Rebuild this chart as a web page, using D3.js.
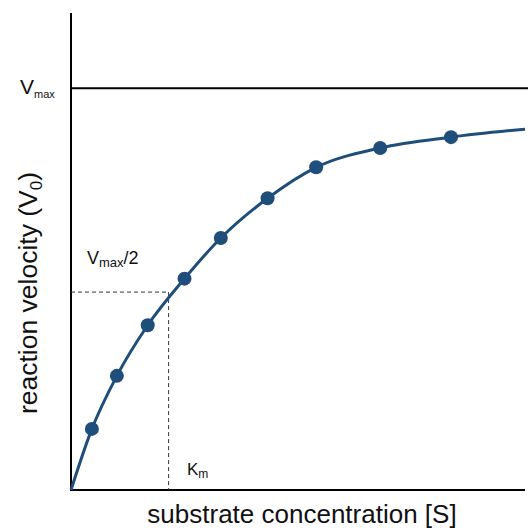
<!DOCTYPE html>
<html>
<head>
<meta charset="utf-8">
<script src="https://cdn.jsdelivr.net/npm/d3@7/dist/d3.min.js"></script>
<style>
  html, body { margin: 0; padding: 0; background: #fff; }
  text { font-family: "Liberation Sans", Arial, sans-serif; fill: #111; }
</style>
</head>
<body>
<svg id="chart" width="528" height="529"></svg>
<script>
// Data (substrate concentration, reaction velocity as fraction of Vmax)
const substrate = [0.46, 1.01, 1.69, 2.50, 3.30, 4.33, 5.40, 6.81, 8.37];
const velocity  = [0.152, 0.284, 0.410, 0.526, 0.627, 0.726, 0.803, 0.851, 0.878];
const curveS = [0, 0.46, 1.01, 1.69, 2.50, 3.30, 4.33, 5.40, 6.81, 8.37, 10];
const curveV = [0, 0.152, 0.284, 0.410, 0.526, 0.627, 0.726, 0.803, 0.851, 0.878, 0.898];
const vmax = 1.0;
const halfVmax = 0.4925;
const km = 2.15;

const svg = d3.select("#chart");
const x = d3.scaleLinear().domain([0, 10]).range([71, 525]);
const y = d3.scaleLinear().domain([0, 1.187]).range([490, 13]);
const color = "#1f4e7a";

// Axes
svg.append("line").attr("x1", x(0)).attr("x2", x(0)).attr("y1", y(0) + 1).attr("y2", y(1.187))
  .attr("stroke", "#000").attr("stroke-width", 2);
svg.append("line").attr("x1", x(0)).attr("x2", x(10)).attr("y1", y(0)).attr("y2", y(0))
  .attr("stroke", "#000").attr("stroke-width", 2);

// Vmax line
svg.append("line").attr("x1", x(0)).attr("x2", 528).attr("y1", y(vmax)).attr("y2", y(vmax))
  .attr("stroke", "#000").attr("stroke-width", 2);

// Dashed guides
svg.append("line").attr("x1", x(0)).attr("x2", x(km)).attr("y1", y(halfVmax)).attr("y2", y(halfVmax))
  .attr("stroke", "#333").attr("stroke-width", 1).attr("stroke-dasharray", "4,3");
svg.append("line").attr("x1", x(km)).attr("x2", x(km)).attr("y1", y(halfVmax)).attr("y2", y(0))
  .attr("stroke", "#333").attr("stroke-width", 1).attr("stroke-dasharray", "4,3");

// Curve
const line = d3.line().x((d, i) => x(curveS[i])).y((d, i) => y(curveV[i])).curve(d3.curveMonotoneX);
svg.append("path").attr("d", line(curveS)).attr("fill", "none")
  .attr("stroke", color).attr("stroke-width", 3);

// Points
svg.selectAll("circle.pt").data(substrate).enter().append("circle")
  .attr("class", "pt")
  .attr("cx", d => x(d)).attr("cy", (d, i) => y(velocity[i])).attr("r", 7)
  .attr("fill", color);

// Labels
const vl = svg.append("text").attr("x", 20).attr("y", 94).attr("font-size", 21);
vl.append("tspan").text("V");
vl.append("tspan").attr("font-size", 11).attr("dy", 4).text("max");

const vh = svg.append("text").attr("x", 87).attr("y", 264).attr("font-size", 18);
vh.append("tspan").text("V");
vh.append("tspan").attr("font-size", 13).attr("dy", 3).text("max");
vh.append("tspan").attr("dy", -3).text("/2");

const kl = svg.append("text").attr("x", 187).attr("y", 475).attr("font-size", 17);
kl.append("tspan").text("K");
kl.append("tspan").attr("font-size", 12).attr("dy", 3).text("m");

svg.append("text").attr("x", 302).attr("y", 523).attr("text-anchor", "middle")
  .attr("font-size", 26).text("substrate concentration [S]");

const yl = svg.append("text").attr("transform", "translate(37,293) rotate(-90)")
  .attr("text-anchor", "middle").attr("font-size", 26.5);
yl.append("tspan").text("reaction velocity (V");
yl.append("tspan").attr("font-size", 17).attr("dy", 5).text("0");
yl.append("tspan").attr("dy", -5).text(")");
</script>
</body>
</html>
